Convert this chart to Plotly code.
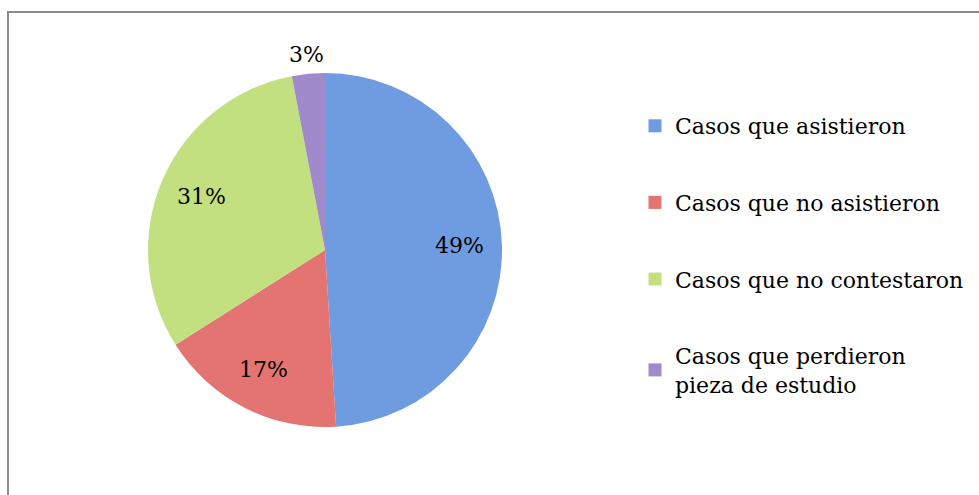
import math
import plotly.graph_objects as go

categories = ["Casos que asistieron", "Casos que no asistieron",
              "Casos que no contestaron", "Casos que perdieron<br>pieza de estudio"]
values = [49, 17, 31, 3]
colors = ["#6f9ce0", "#e37471", "#c3e080", "#a08acb"]
label_outside = [False, False, False, True]

FONT = "DejaVu Serif"
W, H = 979, 495
# pie geometry (pixels)
CX, CY, R = 325, 250, 177

fig = go.Figure()
fig.add_trace(go.Pie(
    labels=categories, values=values, sort=False, direction="clockwise", rotation=0,
    marker=dict(colors=colors, line=dict(width=0)),
    textinfo="none", showlegend=False,
    domain=dict(x=[(CX - R) / W, (CX + R) / W], y=[1 - (CY + R) / H, 1 - (CY - R) / H]),
))

# percentage labels placed at each slice's mid-angle
total = sum(values)
cum = 0
annotations = []
for v, out in zip(values, label_outside):
    mid = (cum + v / 2) / total * 2 * math.pi
    cum += v
    r = R * (1.11 if out else 0.76)
    px = CX + r * math.sin(mid)
    py = CY - r * math.cos(mid)
    annotations.append(dict(
        x=px / W, y=1 - py / H, xref="paper", yref="paper",
        text=f"{round(v / total * 100)}%", showarrow=False,
        font=dict(family=FONT, size=22, color="black"),
        xanchor="center", yanchor="middle"))

for i, (name, c) in enumerate(zip(categories, colors)):
    fig.add_trace(go.Scatter(
        x=[None], y=[None], mode="markers", name=name, legendgroup=f"g{i}",
        marker=dict(symbol="square", size=13, color=c),
    ))

fig.update_layout(
    width=W, height=H, margin=dict(l=0, r=0, t=0, b=0),
    paper_bgcolor="white", plot_bgcolor="white",
    xaxis=dict(visible=False), yaxis=dict(visible=False),
    font=dict(family=FONT, size=22, color="black"),
    legend=dict(x=635 / W, xanchor="left", y=1 - 105 / H, yanchor="top",
                tracegroupgap=45, traceorder="grouped",
                font=dict(family=FONT, size=22, color="black"),
                bgcolor="rgba(0,0,0,0)"),
    annotations=annotations,
    shapes=[dict(type="rect", xref="paper", yref="paper",
                 x0=8 / W, y0=1 - 12 / H, x1=1.01, y1=-0.01,
                 line=dict(color="#8c8c8c", width=2))],
)

fig.write_html("out.html")
